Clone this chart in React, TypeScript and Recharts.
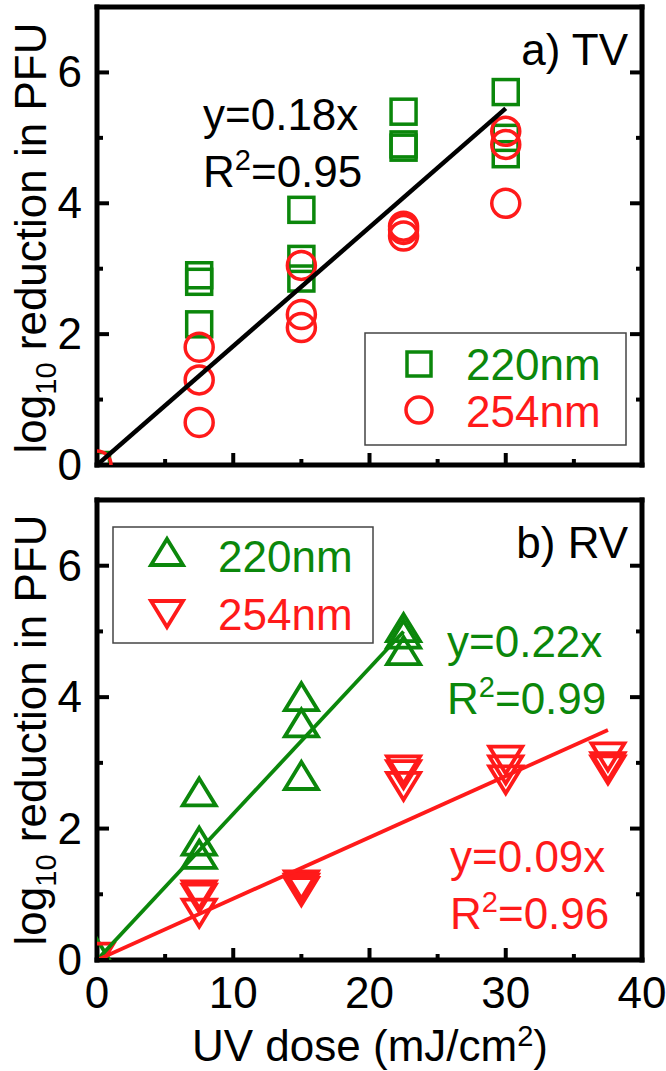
import React from "react";
import { ScatterChart, Scatter, XAxis, YAxis } from "recharts";

const GREEN = "#0b870b";
const RED = "#ff1a1a";
const FONT = "'Liberation Sans', Arial, Helvetica, sans-serif";

// axis ticks (minor ones drawn short, no label)
const xTicks = [0, 5, 10, 15, 20, 25, 30, 35, 40];
const yTicks = [0, 1, 2, 3, 4, 5, 6, 7];

// a) TV
const tvDose = [0, 7.5, 7.5, 7.5, 15, 15, 15, 22.5, 22.5, 22.5, 30, 30, 30];
const tv220 = [0, 2.9, 2.8, 2.15, 3.9, 3.15, 2.85, 5.4, 4.9, 4.85, 5.7, 5.0, 4.75];
const tv254 = [0, 1.8, 1.3, 0.65, 3.05, 2.3, 2.1, 3.65, 3.6, 3.5, 5.1, 4.9, 4.0];
const tvFitDose = [0, 30];
const tvFit = [0, 5.45];

// b) RV
const rv220Dose = [0, 7.5, 7.5, 7.5, 15, 15, 15, 22.5, 22.5, 22.5];
const rv220 = [0.1, 2.55, 1.8, 1.6, 4.0, 3.6, 2.8, 5.05, 4.95, 4.7];
const rv254Dose = [0, 7.5, 7.5, 7.5, 15, 15, 15, 22.5, 22.5, 22.5, 30, 30, 30, 37.5, 37.5, 37.5];
const rv254 = [0.05, 1.0, 0.95, 0.72, 1.15, 1.1, 1.05, 2.9, 2.83, 2.65, 3.05, 2.9, 2.75, 3.1, 2.95, 2.9];
const rv220FitDose = [0, 22.5];
const rv220Fit = [0, 5.0];
const rv254FitDose = [0, 37.5];
const rv254Fit = [0, 3.5];

const pts = (xs: number[], ys: number[]) => xs.map((x, i) => ({ x, y: ys[i] }));

const Square = (color: string) => (p: any) => (
  <rect x={p.cx - 12.5} y={p.cy - 12.5} width={25} height={25} fill="none" stroke={color} strokeWidth={3.5} />
);
const Circle = (color: string) => (p: any) => (
  <circle cx={p.cx} cy={p.cy} r={14} fill="none" stroke={color} strokeWidth={3.5} />
);
const TriUp = (color: string) => (p: any) => (
  <path d={`M${p.cx},${p.cy - 14}L${p.cx + 16.5},${p.cy + 13}L${p.cx - 16.5},${p.cy + 13}Z`} fill="none" stroke={color} strokeWidth={3.8} />
);
const TriDown = (color: string) => (p: any) => (
  <path d={`M${p.cx},${p.cy + 14}L${p.cx + 16.5},${p.cy - 13}L${p.cx - 16.5},${p.cy - 13}Z`} fill="none" stroke={color} strokeWidth={3.8} />
);
const NoDot = () => <g />;

function makeTick(side: "bottom" | "top" | "left" | "right", showLabel: boolean) {
  return (props: any) => {
    const { x, y, payload } = props;
    const v = payload.value;
    const major = side === "bottom" || side === "top" ? v % 10 === 0 : v % 2 === 0;
    const len = major ? 12 : 6;
    let x2 = x;
    let y2 = y;
    if (side === "bottom") y2 = y - len;
    if (side === "top") y2 = y + len;
    if (side === "left") x2 = x + len;
    if (side === "right") x2 = x - len;
    return (
      <g>
        <line x1={x} y1={y} x2={x2} y2={y2} stroke="#000" strokeWidth={4} />
        {showLabel && major && side === "left" && (
          <text x={x - 15} y={y + 15} textAnchor="end" fontSize={44} fontFamily={FONT} fill="#000">
            {v}
          </text>
        )}
        {showLabel && major && side === "bottom" && (
          <text x={x} y={y + 48} textAnchor="middle" fontSize={44} fontFamily={FONT} fill="#000">
            {v}
          </text>
        )}
      </g>
    );
  };
}

const axisLine = { stroke: "#000", strokeWidth: 5, strokeLinecap: "square" as const };

function Frame({ xLabels, top, bottom }: { xLabels: boolean; top: number; bottom: number }) {
  return [
    <XAxis
      key="xb"
      xAxisId={0}
      dataKey="x"
      type="number"
      domain={[0, 40]}
      ticks={xTicks}
      interval={0}
      allowDataOverflow
      height={bottom}
      tickSize={0}
      tickMargin={0}
      tickLine={false}
      axisLine={axisLine}
      tick={makeTick("bottom", xLabels)}
    />,
    <XAxis
      key="xt"
      xAxisId="t"
      orientation="top"
      type="number"
      domain={[0, 40]}
      ticks={xTicks}
      interval={0}
      allowDataOverflow
      height={top}
      tickSize={0}
      tickMargin={0}
      tickLine={false}
      axisLine={axisLine}
      tick={makeTick("top", false)}
    />,
    <YAxis
      key="yl"
      yAxisId={0}
      dataKey="y"
      type="number"
      domain={[0, 7]}
      ticks={yTicks}
      interval={0}
      allowDataOverflow
      width={97}
      tickSize={0}
      tickMargin={0}
      tickLine={false}
      axisLine={axisLine}
      tick={makeTick("left", true)}
    />,
    <YAxis
      key="yr"
      yAxisId="r"
      orientation="right"
      type="number"
      domain={[0, 7]}
      ticks={yTicks}
      interval={0}
      allowDataOverflow
      width={24}
      tickSize={0}
      tickMargin={0}
      tickLine={false}
      axisLine={axisLine}
      tick={makeTick("right", false)}
    />,
  ];
}

const YLabel = ({ cy }: { cy: number }) => (
  <text transform={`translate(46,${cy}) rotate(-90)`} textAnchor="middle" fontSize={44}>
    log
    <tspan fontSize={29} dy={10}>10</tspan>
    <tspan dy={-10}> reduction in PFU</tspan>
  </text>
);

const Fit = ({ x, y, main, r2, color }: { x: number; y: number; main: string; r2: string; color: string }) => (
  <g fill={color} fontSize={44}>
    <text x={x} y={y}>{main}</text>
    <text x={x} y={y + 57}>
      R<tspan fontSize={29} dy={-17}>2</tspan>
      <tspan dy={17}>={r2}</tspan>
    </text>
  </g>
);

export default function App() {
  return (
    <div style={{ position: "absolute", left: 0, top: 0, width: 666, height: 1071, background: "#fff" }}>
      <div style={{ position: "absolute", left: 0, top: 0 }}>
        <ScatterChart width={666} height={490} margin={{ top: 0, right: 0, bottom: 0, left: 0 }}>
          {Frame({ xLabels: false, top: 7, bottom: 25 })}
          <Scatter data={pts(tvDose, tv220)} shape={Square(GREEN)} isAnimationActive={false} />
          <Scatter data={pts(tvDose, tv254)} shape={Circle(RED)} isAnimationActive={false} />
          <Scatter
            data={pts(tvFitDose, tvFit)}
            line={{ stroke: "#000", strokeWidth: 4.5 }}
            shape={NoDot}
            isAnimationActive={false}
          />
        </ScatterChart>
      </div>
      <div style={{ position: "absolute", left: 0, top: 490 }}>
        <ScatterChart width={666} height={581} margin={{ top: 0, right: 0, bottom: 0, left: 0 }}>
          {Frame({ xLabels: true, top: 10, bottom: 111 })}
          <Scatter data={pts(rv220Dose, rv220)} shape={TriUp(GREEN)} isAnimationActive={false} />
          <Scatter data={pts(rv254Dose, rv254)} shape={TriDown(RED)} isAnimationActive={false} />
          <Scatter
            data={pts(rv220FitDose, rv220Fit)}
            line={{ stroke: GREEN, strokeWidth: 3.8 }}
            shape={NoDot}
            isAnimationActive={false}
          />
          <Scatter
            data={pts(rv254FitDose, rv254Fit)}
            line={{ stroke: RED, strokeWidth: 3.8 }}
            shape={NoDot}
            isAnimationActive={false}
          />
        </ScatterChart>
      </div>
      <svg
        width={666}
        height={1071}
        style={{ position: "absolute", left: 0, top: 0, pointerEvents: "none" }}
        fontFamily={FONT}
      >
        <YLabel cy={238} />
        <YLabel cy={730} />
        <text x={370} y={1061} textAnchor="middle" fontSize={44}>
          UV dose (mJ/cm<tspan fontSize={29} dy={-15}>2</tspan>
          <tspan dy={15}>)</tspan>
        </text>

        <text x={628} y={65} textAnchor="end" fontSize={44}>a) TV</text>
        <text x={628} y={558} textAnchor="end" fontSize={44}>b) RV</text>

        <Fit x={203} y={130} main="y=0.18x" r2="0.95" color="#000" />
        <Fit x={447} y={657} main="y=0.22x" r2="0.99" color={GREEN} />
        <Fit x={450} y={872} main="y=0.09x" r2="0.96" color={RED} />

        {/* legend a */}
        <rect x={365} y={333} width={261} height={112} fill="#fff" stroke="#444" strokeWidth={1.5} />
        <rect x={407} y={352} width={24} height={24} fill="none" stroke={GREEN} strokeWidth={3.5} />
        <circle cx={419} cy={410} r={13} fill="none" stroke={RED} strokeWidth={3.5} />
        <text x={466} y={380} fontSize={44} fill={GREEN}>220nm</text>
        <text x={466} y={427} fontSize={44} fill={RED}>254nm</text>

        {/* legend b */}
        <rect x={113} y={527} width={260} height={116} fill="#fff" stroke="#444" strokeWidth={1.5} />
        <path d="M167,539L183,565L151,565Z" fill="none" stroke={GREEN} strokeWidth={3.8} />
        <path d="M167,627L183,601L151,601Z" fill="none" stroke={RED} strokeWidth={3.8} />
        <text x={218} y={572} fontSize={44} fill={GREEN}>220nm</text>
        <text x={218} y={630} fontSize={44} fill={RED}>254nm</text>
      </svg>
    </div>
  );
}
